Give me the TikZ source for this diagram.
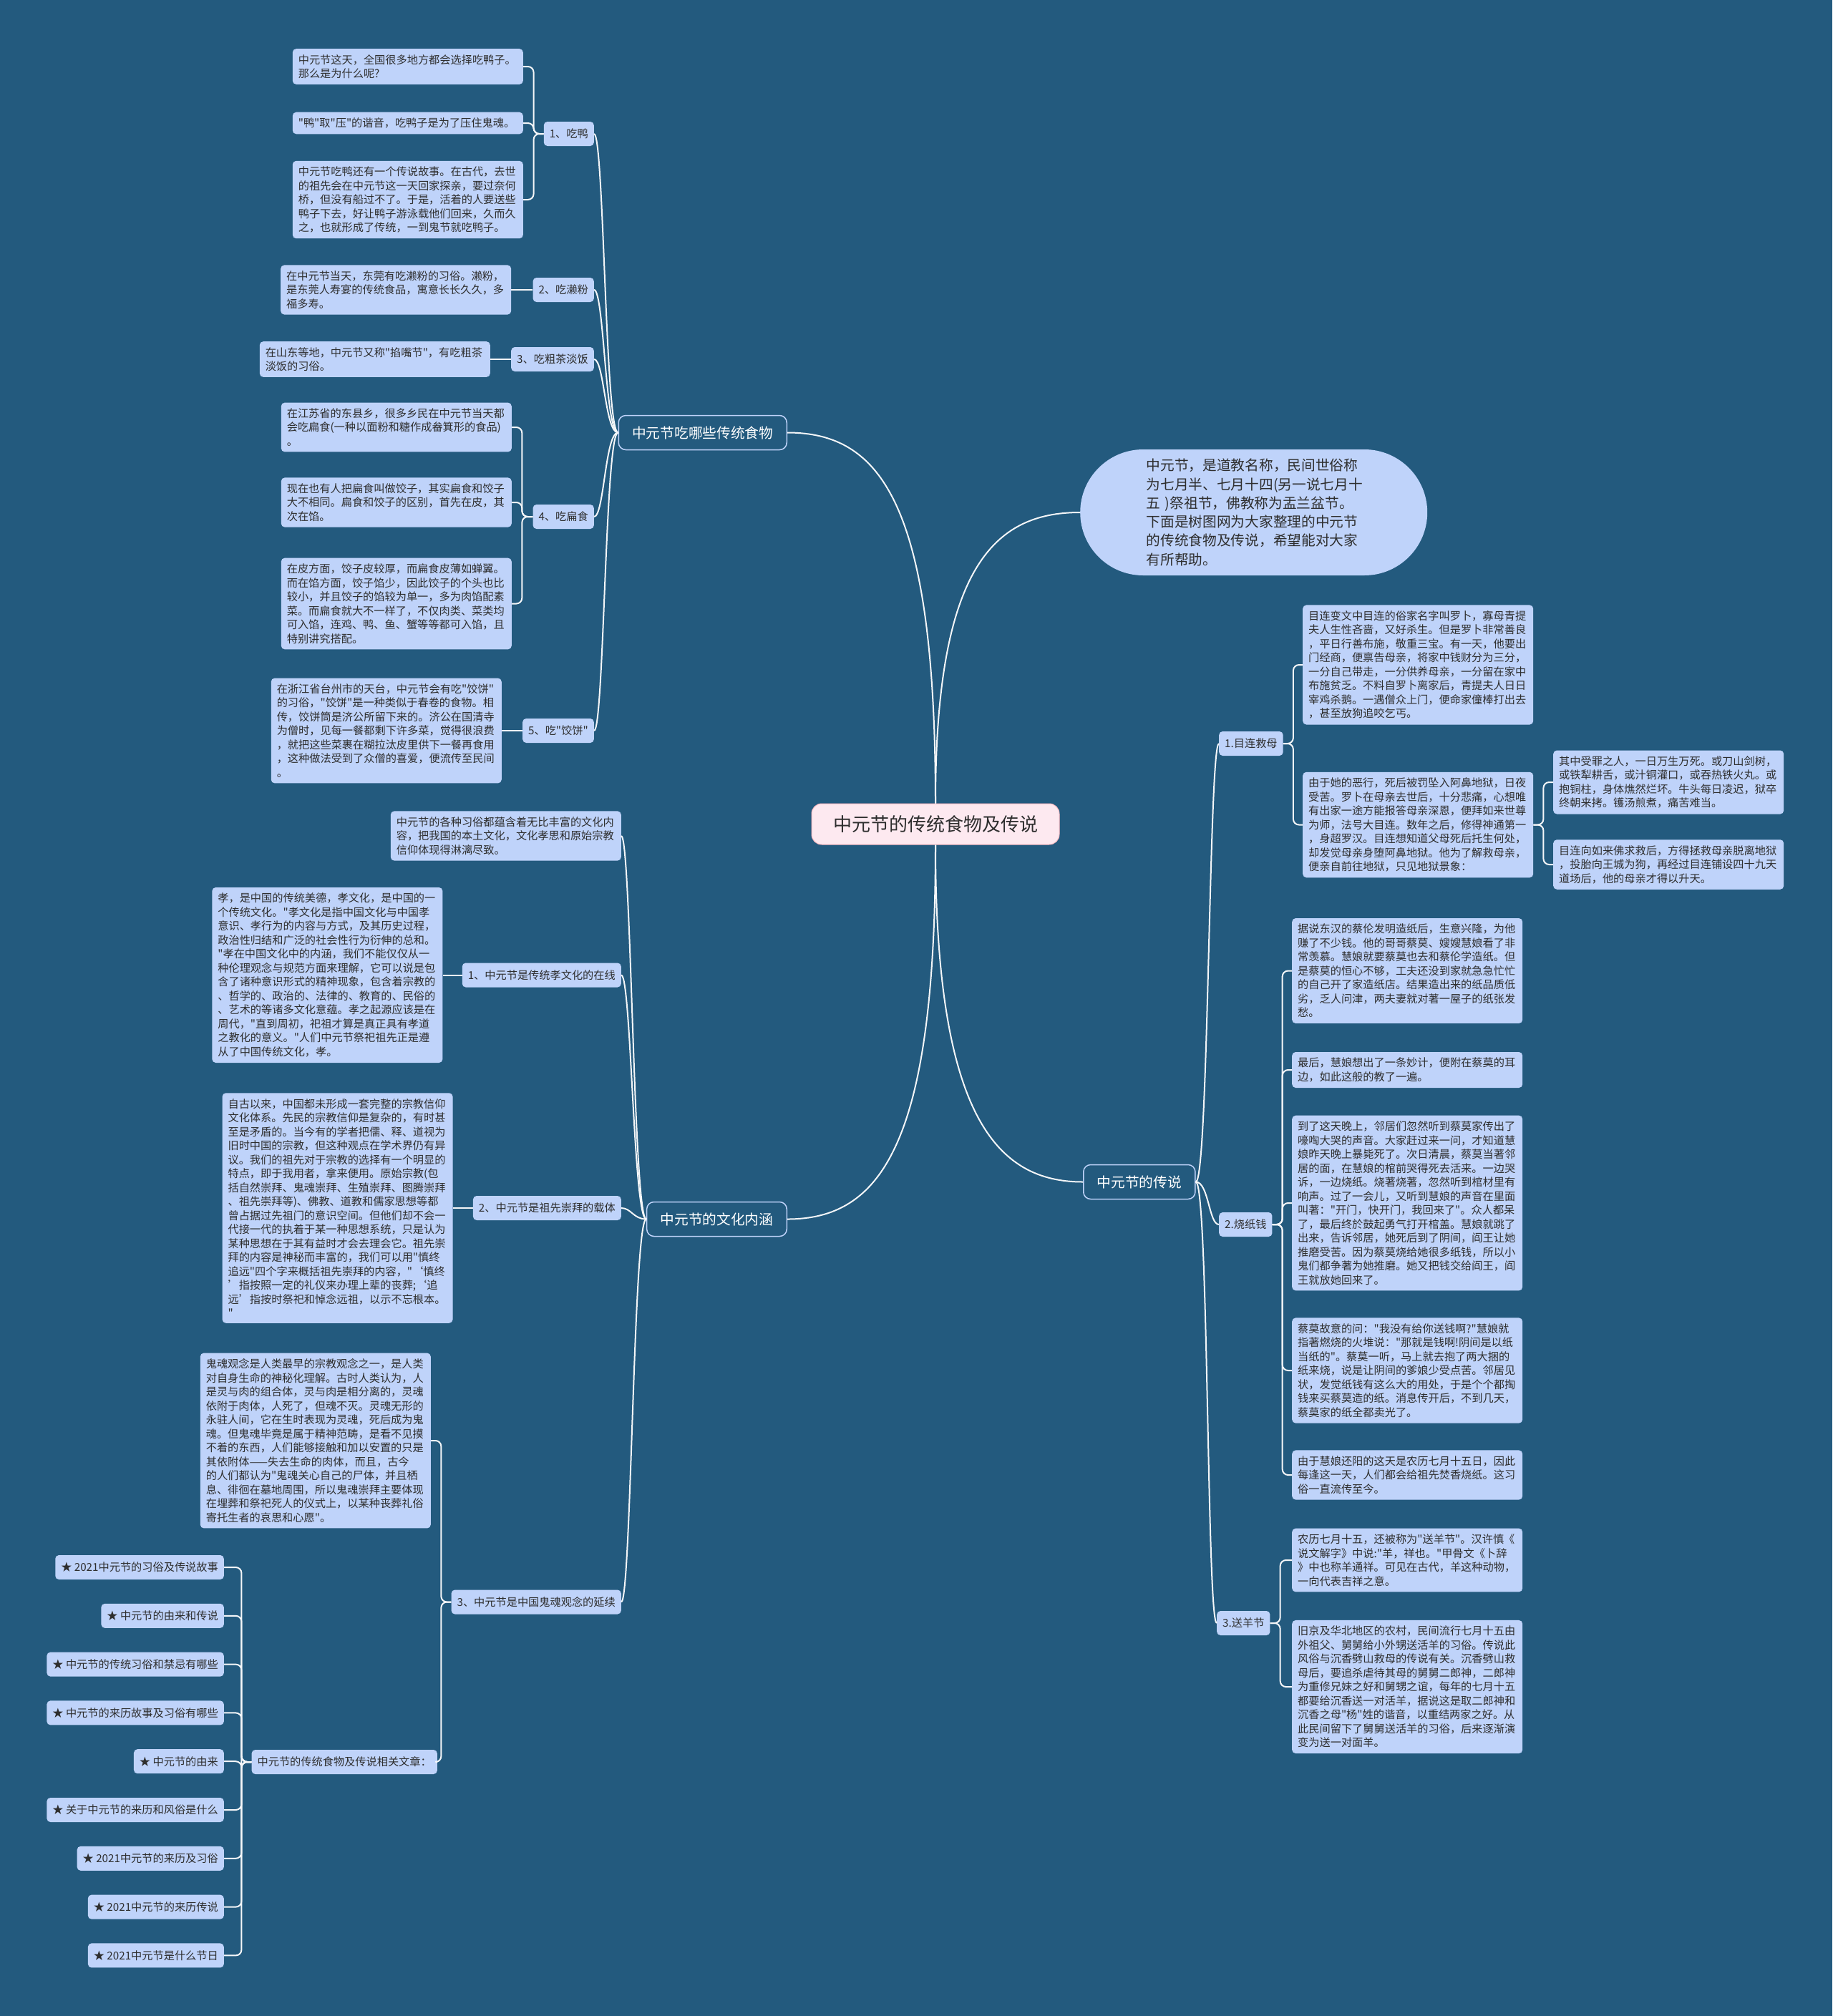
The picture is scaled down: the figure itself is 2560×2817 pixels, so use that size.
\documentclass[tikz,border=0pt]{standalone}
\usepackage{fontspec}
\setmainfont{Noto Sans CJK SC}
\newfontfamily\cjkfont{Noto Sans CJK SC}
\usetikzlibrary{positioning}
\definecolor{bgblue}{HTML}{235A7E}
\definecolor{boxblue}{HTML}{BFD3FA}
\definecolor{inkdark}{HTML}{2E2E2E}
\definecolor{rootpink}{HTML}{FDE9F0}
\definecolor{linewhite}{HTML}{F4F6F8}
\newcommand{\leaffont}{\cjkfont\fontsize{15.2}{19.5}\selectfont}
\newcommand{\branchfont}{\cjkfont\fontsize{19.7}{26.3}\selectfont}
\newcommand{\rootfont}{\cjkfont\fontsize{26}{31}\selectfont}
\tikzset{
  rootbox/.style   = {rounded corners=14pt, draw=rootpink!80!red, line width=1pt, fill=rootpink,
                      text=inkdark, font=\rootfont, inner xsep=30pt, minimum height=57pt},
  pillbox/.style   = {rounded corners=88pt, fill=boxblue, text=inkdark, align=left, font=\branchfont,
                      text width=300pt, minimum width=485pt, minimum height=176pt, inner ysep=2pt},
  branchbox/.style = {rounded corners=10pt, draw=boxblue, line width=1.5pt, fill=bgblue,
                      text=white, font=\branchfont, inner xsep=19pt, minimum height=48pt},
  subbox/.style    = {rounded corners=5pt, fill=boxblue, text=inkdark, font=\leaffont,
                      inner xsep=8pt, minimum height=34pt},
  leafbox/.style   = {rounded corners=5pt, fill=boxblue, text=inkdark, font=\leaffont, align=left,
                      text width=306pt, inner xsep=8pt, inner ysep=8pt},
  link/.style      = {draw=linewhite, line width=2pt},
  bracket/.style   = {link, rounded corners=8pt},
}

\begin{document}
\begin{tikzpicture}[x=1pt, y=-1pt]
  \fill[bgblue] (0,0) rectangle (2560,2817);
  \useasboundingbox (0,0) rectangle (2560,2817);

  % centre and intro
  \node[rootbox] (root) at (1307,1151.5) {中元节的传统食物及传说};
  \node[pillbox, anchor=west] (intro) at (1509,716) {中元节，是道教名称，民间世俗称\\为七月半、七月十四(另一说七月十\\五 )祭祖节，佛教称为盂兰盆节。\\下面是树图网为大家整理的中元节\\的传统食物及传说，希望能对大家\\有所帮助。};

  % traditional food
  \node[branchbox, anchor=east] (food) at (1100,604.5) {中元节吃哪些传统食物};
  \node[subbox, anchor=east] (duck) at (830,187) {1、吃鸭};
  \node[leafbox, anchor=east] (duck1) at (731,93) {中元节这天，全国很多地方都会选择吃鸭子。\\那么是为什么呢?};
  \node[leafbox, anchor=east] (duck2) at (731,172) {"鸭"取"压"的谐音，吃鸭子是为了压住鬼魂。};
  \node[leafbox, anchor=east] (duck3) at (731,279) {中元节吃鸭还有一个传说故事。在古代，去世\\的祖先会在中元节这一天回家探亲，要过奈何\\桥，但没有船过不了。于是，活着的人要送些\\鸭子下去，好让鸭子游泳载他们回来，久而久\\之，也就形成了传统，一到鬼节就吃鸭子。};
  \node[subbox, anchor=east] (laifen) at (830,405) {2、吃濑粉};
  \node[leafbox, left=30pt of laifen] (laifen1) {在中元节当天，东莞有吃濑粉的习俗。濑粉，\\是东莞人寿宴的传统食品，寓意长长久久，多\\福多寿。};
  \node[subbox, anchor=east] (tea) at (830,502) {3、吃粗茶淡饭};
  \node[leafbox, left=29pt of tea] (tea1) {在山东等地，中元节又称"掐嘴节"，有吃粗茶\\淡饭的习俗。};
  \node[subbox, anchor=east] (bianshi) at (830,722) {4、吃扁食};
  \node[leafbox, anchor=east] (bianshi1) at (715,597) {在江苏省的东县乡，很多乡民在中元节当天都\\会吃扁食(一种以面粉和糖作成畚箕形的食品)\\。};
  \node[leafbox, anchor=east] (bianshi2) at (715,702) {现在也有人把扁食叫做饺子，其实扁食和饺子\\大不相同。扁食和饺子的区别，首先在皮，其\\次在馅。};
  \node[leafbox, anchor=east] (bianshi3) at (715,843.5) {在皮方面，饺子皮较厚，而扁食皮薄如蝉翼。\\而在馅方面，饺子馅少，因此饺子的个头也比\\较小，并且饺子的馅较为单一，多为肉馅配素\\菜。而扁食就大不一样了，不仅肉类、菜类均\\可入馅，连鸡、鸭、鱼、蟹等等都可入馅，且\\特别讲究搭配。};
  \node[subbox, anchor=east] (jiaobing) at (830,1021) {5、吃"饺饼"};
  \node[leafbox, left=29pt of jiaobing] (jiaobing1) {在浙江省台州市的天台，中元节会有吃"饺饼"\\的习俗，"饺饼"是一种类似于春卷的食物。相\\传，饺饼筒是济公所留下来的。济公在国清寺\\为僧时，见每一餐都剩下许多菜，觉得很浪费\\，就把这些菜裹在糊拉汰皮里供下一餐再食用\\，这种做法受到了众僧的喜爱，便流传至民间\\。};

  % cultural meaning
  \node[branchbox, anchor=east] (culture) at (1100,1703.5) {中元节的文化内涵};
  \node[leafbox, anchor=east] (rich) at (868,1168) {中元节的各种习俗都蕴含着无比丰富的文化内\\容，把我国的本土文化，文化孝思和原始宗教\\信仰体现得淋漓尽致。};
  \node[subbox, anchor=east] (filial) at (868,1362.5) {1、中元节是传统孝文化的在线};
  \node[leafbox, left=27pt of filial] (filial1) {孝，是中国的传统美德，孝文化，是中国的一\\个传统文化。"孝文化是指中国文化与中国孝\\意识、孝行为的内容与方式，及其历史过程，\\政治性归结和广泛的社会性行为衍伸的总和。\\"孝在中国文化中的内涵，我们不能仅仅从一\\种伦理观念与规范方面来理解，它可以说是包\\含了诸种意识形式的精神现象，包含着宗教的\\、哲学的、政治的、法律的、教育的、民俗的\\、艺术的等诸多文化意蕴。孝之起源应该是在\\周代，"直到周初，祀祖才算是真正具有孝道\\之教化的意义。"人们中元节祭祀祖先正是遵\\从了中国传统文化，孝。};
  \node[subbox, anchor=east] (ancestor) at (868,1688) {2、中元节是祖先崇拜的载体};
  \node[leafbox, left=28pt of ancestor] (ancestor1) {自古以来，中国都未形成一套完整的宗教信仰\\文化体系。先民的宗教信仰是复杂的，有时甚\\至是矛盾的。当今有的学者把儒、释、道视为\\旧时中国的宗教，但这种观点在学术界仍有异\\议。我们的祖先对于宗教的选择有一个明显的\\特点，即于我用者，拿来便用。原始宗教(包\\括自然崇拜、鬼魂崇拜、生殖崇拜、图腾崇拜\\、祖先崇拜等)、佛教、道教和儒家思想等都\\曾占据过先祖门的意识空间。但他们却不会一\\代接一代的执着于某一种思想系统，只是认为\\某种思想在于其有益时才会去理会它。祖先崇\\拜的内容是神秘而丰富的，我们可以用"慎终\\追远"四个字来概括祖先崇拜的内容，"‘慎终\\’指按照一定的礼仪来办理上辈的丧葬;‘追\\远’指按时祭祀和悼念远祖，以示不忘根本。\\"};
  \node[subbox, anchor=east] (ghost) at (868,2238.5) {3、中元节是中国鬼魂观念的延续};
  \node[leafbox, anchor=east] (ghost1) at (602,2013) {鬼魂观念是人类最早的宗教观念之一，是人类\\对自身生命的神秘化理解。古时人类认为，人\\是灵与肉的组合体，灵与肉是相分离的，灵魂\\依附于肉体，人死了，但魂不灭。灵魂无形的\\永驻人间，它在生时表现为灵魂，死后成为鬼\\魂。但鬼魂毕竟是属于精神范畴，是看不见摸\\不着的东西，人们能够接触和加以安置的只是\\其依附体——失去生命的肉体，而且，古今\\的人们都认为"鬼魂关心自己的尸体，并且栖\\息、徘徊在墓地周围，所以鬼魂崇拜主要体现\\在埋葬和祭祀死人的仪式上，以某种丧葬礼俗\\寄托生者的哀思和心愿"。};
  \node[subbox, anchor=east] (related) at (611,2462) {中元节的传统食物及传说相关文章：};
  \foreach \txt [count=\i] in {2021中元节的习俗及传说故事, 中元节的由来和传说, 中元节的传统习俗和禁忌有哪些,
      中元节的来历故事及习俗有哪些, 中元节的由来, 关于中元节的来历和风俗是什么,
      2021中元节的来历及习俗, 2021中元节的来历传说, 2021中元节是什么节日}
    \node[subbox, anchor=east] (star\i) at (313,{2190+67.8*(\i-1)}) {★ \txt};

  % legends
  \node[branchbox, anchor=west] (legend) at (1513,1651.5) {中元节的传说};
  \node[subbox, anchor=west] (mulian) at (1703,1039) {1.目连救母};
  \node[leafbox, anchor=west] (mulian1) at (1820,929) {目连变文中目连的俗家名字叫罗卜，寡母青提\\夫人生性吝啬，又好杀生。但是罗卜非常善良\\，平日行善布施，敬重三宝。有一天，他要出\\门经商，便禀告母亲，将家中钱财分为三分，\\一分自己带走，一分供养母亲，一分留在家中\\布施贫乏。不料自罗卜离家后，青提夫人日日\\宰鸡杀鹅。一遇僧众上门，便命家僮棒打出去\\，甚至放狗追咬乞丐。};
  \node[leafbox, anchor=west] (mulian2) at (1820,1152.5) {由于她的恶行，死后被罚坠入阿鼻地狱，日夜\\受苦。罗卜在母亲去世后，十分悲痛，心想唯\\有出家一途方能报答母亲深恩，便拜如来世尊\\为师，法号大目连。数年之后，修得神通第一\\，身超罗汉。目连想知道父母死后托生何处，\\却发觉母亲身堕阿鼻地狱。他为了解救母亲，\\便亲自前往地狱，只见地狱景象：};
  \node[leafbox, anchor=west] (mulian3) at (2170,1093) {其中受罪之人，一日万生万死。或刀山剑树，\\或铁犁耕舌，或汁铜灌口，或吞热铁火丸。或\\抱铜柱，身体燋然烂坏。牛头每日凌迟，狱卒\\终朝来拷。镬汤煎煮，痛苦难当。};
  \node[leafbox, anchor=west] (mulian4) at (2170,1208) {目连向如来佛求救后，方得拯救母亲脱离地狱\\，投胎向王城为狗，再经过目连铺设四十九天\\道场后，他的母亲才得以升天。};
  \node[subbox, anchor=west] (paper) at (1703,1711) {2.烧纸钱};
  \node[leafbox, anchor=west] (paper1) at (1805,1356.5) {据说东汉的蔡伦发明造纸后，生意兴隆，为他\\赚了不少钱。他的哥哥蔡莫、嫂嫂慧娘看了非\\常羡慕。慧娘就要蔡莫也去和蔡伦学造纸。但\\是蔡莫的恒心不够，工夫还没到家就急急忙忙\\的自己开了家造纸店。结果造出来的纸品质低\\劣，乏人问津，两夫妻就对著一屋子的纸张发\\愁。};
  \node[leafbox, anchor=west] (paper2) at (1805,1495) {最后，慧娘想出了一条妙计，便附在蔡莫的耳\\边，如此这般的教了一遍。};
  \node[leafbox, anchor=west] (paper3) at (1805,1681) {到了这天晚上，邻居们忽然听到蔡莫家传出了\\嚎啕大哭的声音。大家赶过来一问，才知道慧\\娘昨天晚上暴毙死了。次日清晨，蔡莫当著邻\\居的面，在慧娘的棺前哭得死去活来。一边哭\\诉，一边烧纸。烧著烧著，忽然听到棺材里有\\响声。过了一会儿，又听到慧娘的声音在里面\\叫著："开门，快开门，我回来了"。众人都呆\\了，最后终於鼓起勇气打开棺盖。慧娘就跳了\\出来，告诉邻居，她死后到了阴间，阎王让她\\推磨受苦。因为蔡莫烧给她很多纸钱，所以小\\鬼们都争著为她推磨。她又把钱交给阎王，阎\\王就放她回来了。};
  \node[leafbox, anchor=west] (paper4) at (1805,1915) {蔡莫故意的问："我没有给你送钱啊?"慧娘就\\指著燃烧的火堆说："那就是钱啊!阴间是以纸\\当纸的"。蔡莫一听，马上就去抱了两大捆的\\纸来烧，说是让阴间的爹娘少受点苦。邻居见\\状，发觉纸钱有这么大的用处，于是个个都掏\\钱来买蔡莫造的纸。消息传开后，不到几天，\\蔡莫家的纸全都卖光了。};
  \node[leafbox, anchor=west] (paper5) at (1805,2061) {由于慧娘还阳的这天是农历七月十五日，因此\\每逢这一天，人们都会给祖先焚香烧纸。这习\\俗一直流传至今。};
  \node[subbox, anchor=west] (sheep) at (1700,2268) {3.送羊节};
  \node[leafbox, anchor=west] (sheep1) at (1805,2180) {农历七月十五，还被称为"送羊节"。汉许慎《\\说文解字》中说:"羊，祥也。"甲骨文《卜辞\\》中也称羊通祥。可见在古代，羊这种动物，\\一向代表吉祥之意。};
  \node[leafbox, anchor=west] (sheep2) at (1805,2357) {旧京及华北地区的农村，民间流行七月十五由\\外祖父、舅舅给小外甥送活羊的习俗。传说此\\风俗与沉香劈山救母的传说有关。沉香劈山救\\母后，要追杀虐待其母的舅舅二郎神，二郎神\\为重修兄妹之好和舅甥之谊，每年的七月十五\\都要给沉香送一对活羊，据说这是取二郎神和\\沉香之母"杨"姓的谐音，以重结两家之好。从\\此民间留下了舅舅送活羊的习俗，后来逐渐演\\变为送一对面羊。};

  % connectors
  \draw[link] (root.north) .. controls +(0,-420) and +(130,0) .. (food.east);
  \draw[link] (root.north) .. controls +(0,-330) and +(-120,0) .. (intro.west);
  \draw[link] (root.south) .. controls +(0,420) and +(130,0) .. (culture.east);
  \draw[link] (root.south) .. controls +(0,380) and +(-120,0) .. (legend.west);

  \foreach \n in {duck,laifen,tea,bianshi,jiaobing}
    \draw[link] (food.west) .. controls +(-18,0) and +(14,0) .. (\n.east);
  \foreach \n in {rich,filial,ancestor,ghost}
    \draw[link] (culture.west) .. controls +(-18,0) and +(14,0) .. (\n.east);
  \foreach \n in {mulian,paper,sheep}
    \draw[link] (legend.east) .. controls +(18,0) and +(-14,0) .. (\n.west);

  \foreach \n in {duck1,duck2,duck3}
    \draw[bracket] (duck.west) -- ++(-14,0) |- (\n.east);
  \foreach \n in {bianshi1,bianshi2,bianshi3}
    \draw[bracket] (bianshi.west) -- ++(-15,0) |- (\n.east);
  \draw[link] (laifen.west) -- (laifen1.east);
  \draw[link] (tea.west) -- (tea1.east);
  \draw[link] (jiaobing.west) -- (jiaobing1.east);
  \draw[link] (filial.west) -- (filial1.east);
  \draw[link] (ancestor.west) -- (ancestor1.east);
  \foreach \n in {ghost1,related}
    \draw[bracket] (ghost.west) -- ++(-14,0) |- (\n.east);
  \foreach \i in {1,...,9}
    \draw[bracket] (related.west) -- ++(-14,0) |- (star\i.east);

  \foreach \n in {mulian1,mulian2}
    \draw[bracket] (mulian.east) -- ++(14,0) |- (\n.west);
  \foreach \n in {mulian3,mulian4}
    \draw[bracket] (mulian2.east) -- ++(14,0) |- (\n.west);
  \foreach \n in {paper1,paper2,paper3,paper4,paper5}
    \draw[bracket] (paper.east) -- ++(14,0) |- (\n.west);
  \foreach \n in {sheep1,sheep2}
    \draw[bracket] (sheep.east) -- ++(14,0) |- (\n.west);
\end{tikzpicture}
\end{document}
